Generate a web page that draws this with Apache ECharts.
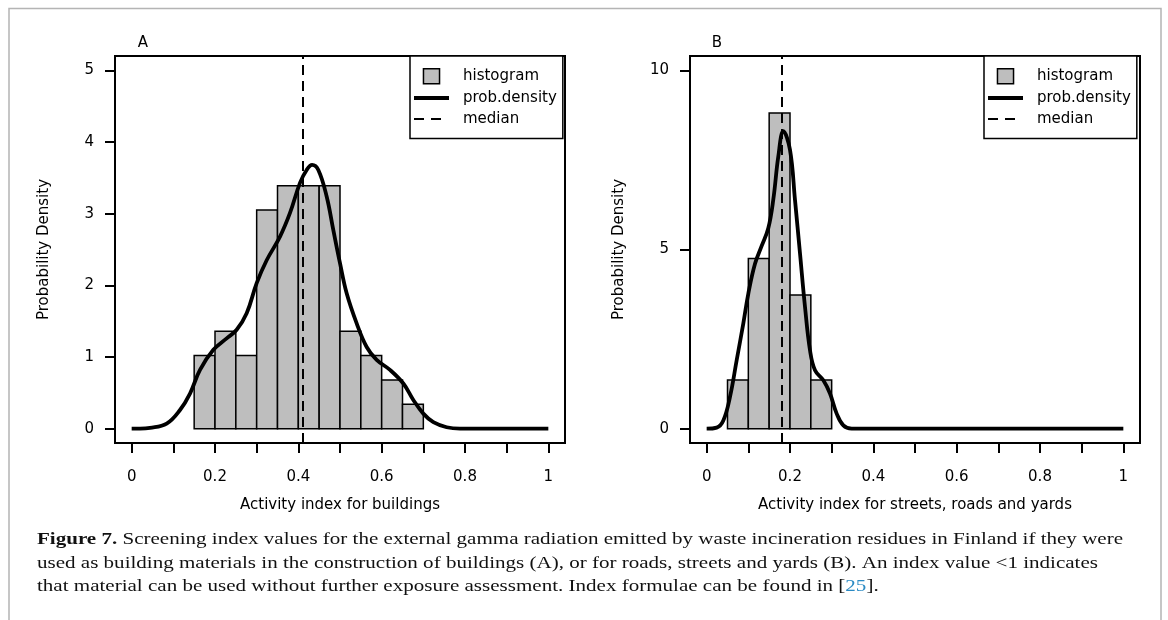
<!DOCTYPE html>
<html>
<head>
<meta charset="utf-8">
<script src="https://cdn.jsdelivr.net/npm/echarts@6/dist/echarts.min.js"></script>
<style>
  html, body { margin: 0; padding: 0; background: #fff; }
  #chart { width: 1168px; height: 620px; }
</style>
</head>
<body>
<div id="chart"></div>
<script>
// ---------------- data ----------------
const binWidth = 0.05;
const binStartsA = [0.15, 0.20, 0.25, 0.30, 0.35, 0.40, 0.45, 0.50, 0.55, 0.60, 0.65];
const histA = [1.02, 1.36, 1.02, 3.05, 3.39, 3.39, 3.39, 1.36, 1.02, 0.68, 0.34];
const binStartsB = [0.05, 0.10, 0.15, 0.20, 0.25];
const histB = [1.36, 4.75, 8.81, 3.73, 1.36];

const densAx = [0, 0.02, 0.044, 0.084, 0.116, 0.14, 0.164, 0.196, 0.228, 0.252, 0.276, 0.3, 0.324, 0.356, 0.38, 0.404, 0.42, 0.433, 0.448, 0.468, 0.484, 0.5, 0.516, 0.54, 0.564, 0.588, 0.62, 0.652, 0.676, 0.7, 0.724, 0.756, 0.788, 1];
const densAy = [0, 0, 0.01, 0.07, 0.26, 0.49, 0.82, 1.10, 1.26, 1.38, 1.61, 2.03, 2.35, 2.68, 3.01, 3.43, 3.61, 3.68, 3.61, 3.24, 2.77, 2.31, 1.89, 1.47, 1.14, 0.96, 0.82, 0.63, 0.40, 0.21, 0.09, 0.02, 0, 0];
const densBx = [0, 0.024, 0.04, 0.056, 0.072, 0.088, 0.1, 0.116, 0.132, 0.148, 0.16, 0.172, 0.184, 0.2, 0.212, 0.224, 0.236, 0.248, 0.26, 0.28, 0.296, 0.312, 0.328, 0.348, 1];
const densBy = [0, 0.03, 0.23, 0.89, 1.91, 2.94, 3.77, 4.6, 5.1, 5.6, 6.4, 7.6, 8.3, 7.78, 6.38, 4.89, 3.40, 2.19, 1.63, 1.35, 0.98, 0.42, 0.09, 0, 0];

const medianA = 0.412;
const medianB = 0.178;

const xTicks = [0, 0.1, 0.2, 0.3, 0.4, 0.5, 0.6, 0.7, 0.8, 0.9, 1];
const xLabels = [0, 0.2, 0.4, 0.6, 0.8, 1];
const yTicksA = [0, 1, 2, 3, 4, 5];
const yTicksB = [0, 5, 10];

const xTitleA = 'Activity index for buildings';
const xTitleB = 'Activity index for streets, roads and yards';
const yTitle = 'Probability Density';
const legendNames = ['histogram', 'prob.density', 'median'];
const captionLines = [
  '{b|Figure 7.}{n| Screening index values for the external gamma radiation emitted by waste incineration residues in Finland if they were}',
  '{n|used as building materials in the construction of buildings (A), or for roads, streets and yards (B). An index value <1 indicates}',
  '{n|that material can be used without further exposure assessment. Index formulae can be found in [}{l|25}{n|].}'
];
const captionPlain1 = ['Figure 7.', ' Screening index values for the external gamma radiation emitted by waste incineration residues in Finland if they were'];

// ---------------- styling ----------------
const SANS = '"DejaVu Sans", sans-serif';
const SERIF = '"Liberation Serif", serif';
const FS = 15;
const CAP_FS = 16;

function histData(starts, h) {
  return starts.map((s, i) => [s, s + binWidth, h[i]]);
}
function pairs(xs, ys) { return xs.map((x, i) => [x, ys[i]]); }

function xAxisCfg(gi, title) {
  return {
    type: 'value', gridIndex: gi, min: -0.04, max: 1.04,
    axisLine: { show: false, onZero: false }, splitLine: { show: false },
    axisTick: { show: true, customValues: xTicks, length: 10, inside: false, lineStyle: { color: '#000', width: 2 } },
    axisLabel: { customValues: xLabels, margin: 27, color: '#000', fontFamily: SANS, fontSize: FS },
    name: title, nameLocation: 'middle', nameGap: 55,
    nameTextStyle: { color: '#000', fontFamily: SANS, fontSize: FS }
  };
}
function yAxisCfg(gi, min, max, ticks) {
  return {
    type: 'value', gridIndex: gi, min: min, max: max,
    axisLine: { show: false, onZero: false }, splitLine: { show: false },
    axisTick: { show: true, customValues: ticks, length: 10, inside: false, lineStyle: { color: '#000', width: 2 } },
    axisLabel: { customValues: ticks, margin: 21, color: '#000', fontFamily: SANS, fontSize: FS },
    name: yTitle, nameLocation: 'middle', nameGap: 63, nameRotate: 90,
    nameTextStyle: { color: '#000', fontFamily: SANS, fontSize: FS }
  };
}
function histSeries(gi, data) {
  return {
    name: legendNames[0], type: 'custom', xAxisIndex: gi, yAxisIndex: gi,
    itemStyle: { color: '#bebebe', borderColor: '#000', borderWidth: 1.5 },
    encode: { x: [0, 1], y: 2 },
    data: data, silent: true, z: 2,
    renderItem: function (params, api) {
      const p0 = api.coord([api.value(0), 0]);
      const p1 = api.coord([api.value(1), api.value(2)]);
      return {
        type: 'rect',
        shape: { x: p0[0], y: p1[1], width: p1[0] - p0[0], height: p0[1] - p1[1] },
        style: { fill: '#bebebe', stroke: '#000', lineWidth: 1.5 }
      };
    }
  };
}
function densSeries(gi, data) {
  return {
    name: legendNames[1], type: 'line', xAxisIndex: gi, yAxisIndex: gi,
    data: data, smooth: 0.4, symbol: 'none', showSymbol: false,
    lineStyle: { color: '#000', width: 3.8 }, itemStyle: { color: '#000' },
    silent: true, z: 4, animation: false
  };
}
function medSeries(gi, m) {
  return {
    name: legendNames[2], type: 'line', xAxisIndex: gi, yAxisIndex: gi,
    data: [], symbol: 'none',
    lineStyle: { color: '#000', width: 2, type: [10, 6] }, itemStyle: { color: '#000' },
    markLine: {
      silent: true, symbol: ['none', 'none'], label: { show: false },
      lineStyle: { color: '#000', width: 2, type: [10, 6] },
      animation: false,
      data: [{ xAxis: m }]
    },
    z: 5
  };
}
function legendCfg(left) {
  return {
    left: left, top: 56, orient: 'vertical', selectedMode: false,
    itemWidth: 35, itemHeight: 15, itemGap: 6,
    padding: [12, 6, 12, 4],
    borderColor: '#000', borderWidth: 1.5, backgroundColor: '#fff',
    textStyle: { color: '#000', fontFamily: SANS, fontSize: FS, padding: [0, 0, 0, 9] },
    data: [
      { name: legendNames[0], icon: 'path://M0,0 L15,0 L15,14 L0,14 Z', itemStyle: { color: '#bebebe', borderColor: '#000', borderWidth: 1.5 } },
      { name: legendNames[1], icon: 'path://M0,0 L35,0 L35,4 L0,4 Z', itemStyle: { color: '#000', borderWidth: 0 } },
      { name: legendNames[2], icon: 'path://M0,0 L10,0 L10,2 L0,2 Z M17,0 L27,0 L27,2 L17,2 Z M35,0 L35,2 L35,0 Z', itemStyle: { color: '#000', borderWidth: 0 } }
    ]
  };
}

// caption width fitting (scale Liberation Serif to the reference line length)
const mctx = document.createElement('canvas').getContext('2d');
mctx.font = 'bold ' + CAP_FS + 'px ' + SERIF;
let w1 = mctx.measureText(captionPlain1[0]).width;
mctx.font = CAP_FS + 'px ' + SERIF;
w1 += mctx.measureText(captionPlain1[1]).width;
const capScale = 1086 / w1;
const capRich = {
  b: { fontFamily: SERIF, fontSize: CAP_FS, fontWeight: 'bold', fill: '#111' , color: '#111'},
  n: { fontFamily: SERIF, fontSize: CAP_FS, fill: '#111', color: '#111' },
  l: { fontFamily: SERIF, fontSize: CAP_FS, fill: '#2a8ac4', color: '#2a8ac4' }
};
const capY = [540, 563.5, 587];

const chart = echarts.init(document.getElementById('chart'), null, { renderer: 'canvas' });
const option = {
  animation: false,
  backgroundColor: '#fff',
  grid: [
    { left: 115, top: 56, width: 450, height: 387, show: true, borderColor: '#000', borderWidth: 2, backgroundColor: 'transparent', containLabel: false },
    { left: 690, top: 56, width: 450, height: 387, show: true, borderColor: '#000', borderWidth: 2, backgroundColor: 'transparent', containLabel: false }
  ],
  xAxis: [xAxisCfg(0, xTitleA), xAxisCfg(1, xTitleB)],
  yAxis: [yAxisCfg(0, -0.2, 5.2, yTicksA), yAxisCfg(1, -0.4, 10.4, yTicksB)],
  legend: [legendCfg(410), legendCfg(984)],
  series: [
    histSeries(0, histData(binStartsA, histA)),
    densSeries(0, pairs(densAx, densAy)),
    medSeries(0, medianA),
    histSeries(1, histData(binStartsB, histB)),
    densSeries(1, pairs(densBx, densBy)),
    medSeries(1, medianB)
  ],
  graphic: [
    { type: 'rect', z: -10, silent: true, shape: { x: 9, y: 8.5, width: 1152, height: 700 }, style: { fill: 'none', stroke: '#b4b4b4', lineWidth: 1.5 } },
    { type: 'text', silent: true, x: 143, y: 43, style: { text: 'A', fontFamily: SANS, fontSize: FS, fill: '#000', align: 'center', verticalAlign: 'middle' } },
    { type: 'text', silent: true, x: 717, y: 43, style: { text: 'B', fontFamily: SANS, fontSize: FS, fill: '#000', align: 'center', verticalAlign: 'middle' } }
  ].concat(captionLines.map((t, i) => ({
    type: 'text', silent: true, x: 37, y: capY[i], scaleX: capScale,
    style: { text: t, rich: capRich, verticalAlign: 'middle', align: 'left', fontFamily: SERIF, fontSize: CAP_FS }
  })))
};
chart.setOption(option);
</script>
</body>
</html>
